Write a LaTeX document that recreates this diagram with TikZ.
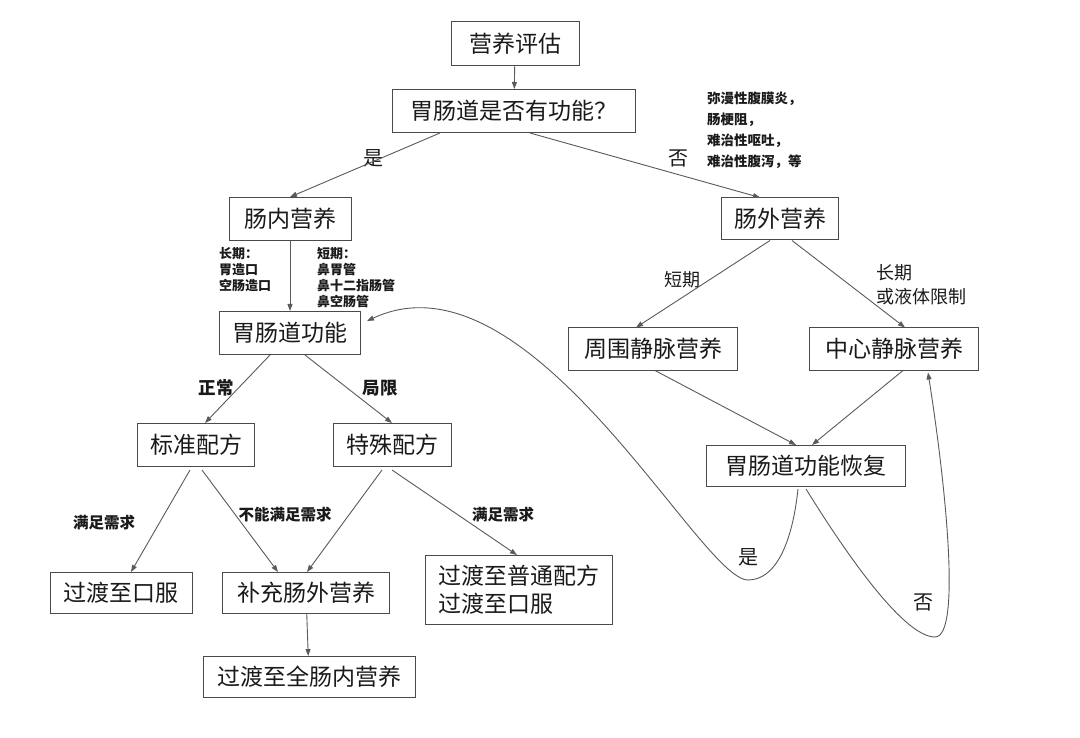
\documentclass[tikz,border=0pt]{standalone}
\usepackage{fontspec}
\setmainfont{Noto Sans CJK SC}
\usetikzlibrary{arrows.meta,calc}
\definecolor{boxc}{HTML}{4A4A4A}
\definecolor{linec}{HTML}{5A5A5A}
\definecolor{txtc}{HTML}{1A1A1A}
\begin{document}
\begin{tikzpicture}[x=1pt,y=-1pt,
  box/.style={draw=boxc, line width=1pt, inner sep=0pt, text=txtc,
    font=\fontsize{23}{28}\selectfont},
  lab/.style={inner sep=0pt, text=txtc, font=\fontsize{18}{22}\selectfont},
  biglab/.style={inner sep=0pt, text=txtc, font=\fontsize{20}{24}\selectfont},
  smlab/.style={inner sep=0pt, text=txtc, font=\fontsize{15.5}{19}\selectfont\bfseries},
  note/.style={inner sep=0pt, text=txtc, align=left},
  arr/.style={draw=linec, line width=0.9pt, -{Triangle[length=7pt,width=5pt]}},
  crv/.style={draw=linec, line width=0.9pt}
]
\useasboundingbox[fill=white] (0,0) rectangle (1080,738);

% boxes
\node[box,minimum width=128,minimum height=44] (ev) at (515,44) {营养评估};
\node[box,minimum width=243,minimum height=43] (q) at (514,111) {胃肠道是否有功能？};
\node[box,minimum width=122,minimum height=43] (en) at (290,219) {肠内营养};
\node[box,minimum width=117,minimum height=42] (pn) at (780,219) {肠外营养};
\node[box,minimum width=141,minimum height=43] (gf) at (290,333) {胃肠道功能};
\node[box,minimum width=169,minimum height=42] (pv) at (653,349) {周围静脉营养};
\node[box,minimum width=169,minimum height=42] (cv) at (894,349) {中心静脉营养};
\node[box,minimum width=117,minimum height=43] (std) at (196,445) {标准配方};
\node[box,minimum width=118,minimum height=43] (spc) at (392,445) {特殊配方};
\node[box,minimum width=199,minimum height=41] (rec) at (806,466) {胃肠道功能恢复};
\node[box,minimum width=142,minimum height=41] (oral) at (121,593) {过渡至口服};
\node[box,minimum width=167,minimum height=41] (sup) at (306,593) {补充肠外营养};
\node[box,minimum width=187,minimum height=69,align=left] (trans) at (519,590) {过渡至普通配方\\过渡至口服};
\node[box,minimum width=212,minimum height=41] (full) at (309,677) {过渡至全肠内营养};

% labels
\node[biglab] (lyes) at (373,158) {是};
\node[biglab] (lno) at (678,158) {否};
\node[note,anchor=north west,font=\fontsize{13.5}{21}\selectfont\bfseries] (ann) at (707,92)
  {弥漫性腹膜炎，\\肠梗阻，\\难治性呕吐，\\难治性腹泻，等};
\node[note,anchor=north west,font=\fontsize{13}{16}\selectfont\bfseries] (lterm) at (219,247)
  {长期：\\胃造口\\空肠造口};
\node[note,anchor=north west,font=\fontsize{13}{16}\selectfont\bfseries] (sterm) at (317,247)
  {短期：\\鼻胃管\\鼻十二指肠管\\鼻空肠管};
\node[lab] (lshort) at (682,280) {短期};
\node[note,anchor=west,font=\fontsize{18}{24}\selectfont] (llong) at (876,285) {长期\\或液体限制};
\node[lab,font=\fontsize{17.5}{21}\selectfont\bfseries] (lnorm) at (216,388) {正常};
\node[lab,font=\fontsize{17.5}{21}\selectfont\bfseries] (llim) at (380,388) {局限};
\node[smlab] (lmeet1) at (104,523) {满足需求};
\node[smlab] (lnot) at (285,515) {不能满足需求};
\node[smlab] (lmeet2) at (503,515) {满足需求};
\node[biglab] (lyes2) at (748,557) {是};
\node[biglab] (lno2) at (923,602) {否};

% connectors
\draw[arr] (ev) -- (q);
\draw[arr] ($(q.south)+(-74,0)$) -- (en.north);
\draw[arr] ($(q.south)+(16,0)$) -- ($(pn.north)+(-20,0)$);
\draw[arr] (en) -- (gf);
\draw[arr] ($(pn.south)+(-10,0)$) -- ($(pv.north)+(-17,0)$);
\draw[arr] ($(pn.south)+(12,0)$) -- ($(cv.north)+(11,0)$);
\draw[arr] ($(gf.south)+(-20,0)$) -- ($(std.north)+(9,0)$);
\draw[arr] ($(gf.south)+(15,0)$) -- (spc.north);
\draw[arr] ($(pv.south)+(2,0)$) -- ($(rec.north)+(-10,0)$);
\draw[arr] ($(cv.south)+(9,0)$) -- ($(rec.north)+(6,0)$);
\draw[arr] ($(std.south)+(-6,3)$) -- ($(oral.north)+(10,0)$);
\draw[arr] ($(std.south)+(6,3)$) -- ($(sup.north)+(-28,0)$);
\draw[arr] ($(spc.south)+(-10,3)$) -- ($(sup.north)+(1,0)$);
\draw[arr] ($(spc.south)+(0,3)$) -- ($(trans.north)+(-2,0)$);
\draw[arr] (sup) -- (full);

% curves
\coordinate (ybot) at (748,580);
\coordinate (nbot) at (935,637);
\draw[crv] ($(rec.south)+(-8,2)$) .. controls (792,545) and (775,580) .. (ybot);
\draw[arr] (ybot) .. controls (700,580) and (530,245) .. ($(gf.east)+(6,-12)$);
\draw[crv] ($(rec.south)+(0,2)$) .. controls (850,560) and (905,637) .. (nbot);
\draw[arr] (nbot) .. controls (962,637) and (945,480) .. ($(cv.south)+(34,2)$);
\end{tikzpicture}
\end{document}
